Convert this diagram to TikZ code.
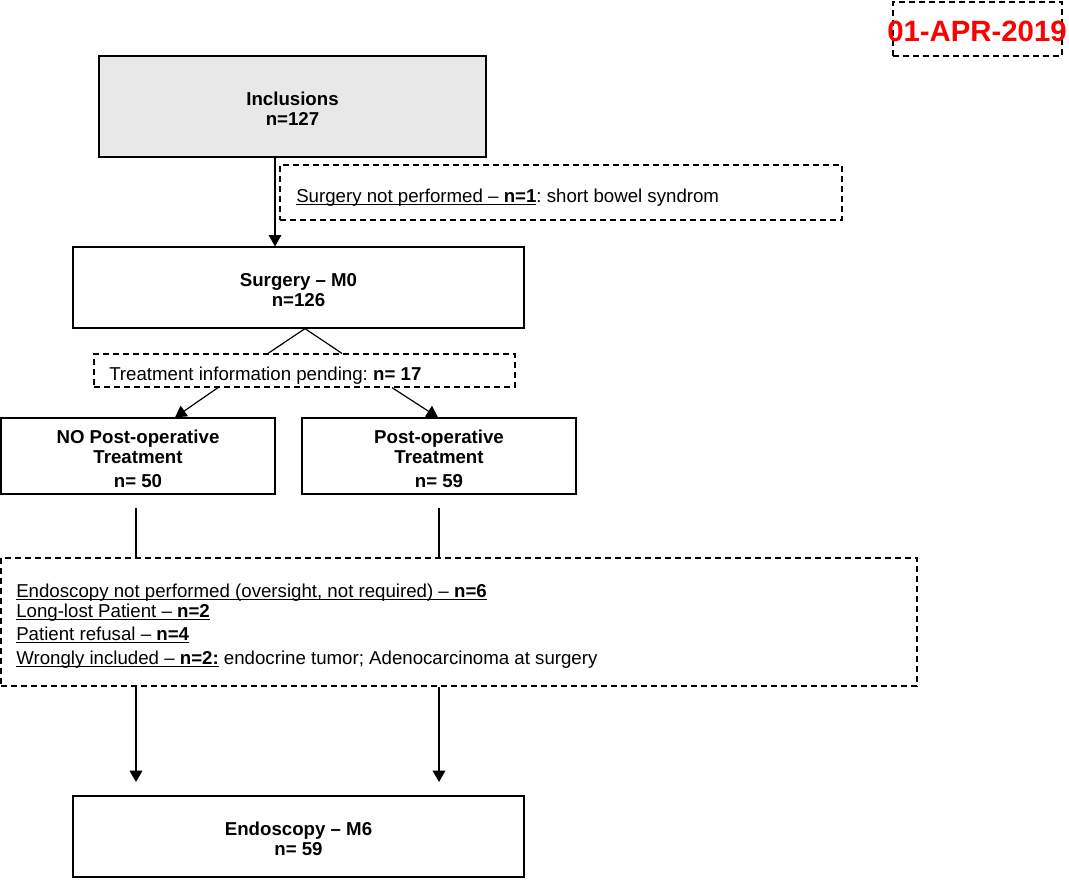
\documentclass[tikz,border=0pt]{standalone}
\usepackage{fontspec}
\setmainfont{Liberation Sans}
\usetikzlibrary{arrows.meta}
\definecolor{boxgray}{HTML}{E8E8E8}
\definecolor{datered}{HTML}{FF0000}
\newcommand\myul[1]{\setbox0\hbox{#1}\rlap{\rule[-1.6pt]{\wd0}{0.6pt}}\box0\relax}
\newcommand\topstrut{\rule{0pt}{14pt}}
\frenchspacing
\tikzset{
  box/.style={draw=black, line width=0.9pt, rectangle, inner sep=0pt, align=center,
    font=\fontsize{14}{15}\selectfont\bfseries},
  dbox/.style={draw=black, line width=0.9pt, dash pattern=on 4.5pt off 3pt, rectangle, inner sep=0pt},
  txt/.style={inner sep=0pt, align=left, font=\fontsize{14}{15}\selectfont},
  conn/.style={line width=0.9pt},
  arr/.style={line width=0.9pt, -{Triangle[width=9.5pt,length=8.5pt]}},
}
\begin{document}
\begin{tikzpicture}[x=0.75pt, y=-0.75pt]
\useasboundingbox (0,0) rectangle (1069,879);

% date stamp
\node[dbox, minimum width=126.75pt, minimum height=40.5pt] (date) at (977.5,29) {};
\node[inner sep=0pt, text=datered, font=\fontsize{22}{24}\selectfont\bfseries] (datetxt) at (977,31) {01-APR-2019};

% main boxes
\node[box, fill=boxgray, minimum width=290.25pt, minimum height=75.75pt] (incl) at (292.5,106.5) {\topstrut Inclusions\\n=127};
\node[box, minimum width=338.25pt, minimum height=60.75pt] (surg) at (298.5,287.5) {\topstrut Surgery -- M0\\n=126};
\node[box, minimum width=205.5pt, minimum height=57pt] (nopost) at (138,456) {\topstrut NO Post-operative\\Treatment\\[3pt]n= 50};
\node[box, minimum width=205.5pt, minimum height=57pt] (post) at (439,456) {\topstrut Post-operative\\Treatment\\[3pt]n= 59};
\node[box, minimum width=338.25pt, minimum height=60.75pt] (endo) at (298.5,836.5) {\topstrut Endoscopy -- M6\\n= 59};

% dashed info boxes
\node[dbox, minimum width=421.5pt, minimum height=41.25pt] (snp) at (561,192.5) {};
\node[txt, anchor=west] (snptxt) at (296,198) {\myul{Surgery not performed -- \textbf{n=1}}: short bowel syndrom};

\node[dbox, minimum width=315.75pt, minimum height=24.75pt] (pend) at (304.5,370.5) {};
\node[txt, anchor=west] (pendtxt) at (109,376) {Treatment information pending: \textbf{n= 17}};

\node[dbox, minimum width=687pt, minimum height=96pt] (big) at (459,622) {};
\node[txt, anchor=west] (bigtxt) at (16,626) {\myul{Endoscopy not performed (oversight, not required) -- \textbf{n=6}}\\[0pt]
\myul{Long-lost Patient -- \textbf{n=2}}\\[2.25pt]
\myul{Patient refusal -- \textbf{n=4}}\\[3pt]
\myul{Wrongly included -- \textbf{n=2:}} endocrine tumor; Adenocarcinoma at surgery};

% connectors
\coordinate (x1) at (275,0);
\draw[arr] (incl.south -| x1) -- (surg.north -| x1);

\coordinate (apex) at (305,0);
\coordinate (pl) at (268,0);
\coordinate (pr) at (342,0);
\draw[conn] (pend.north -| pl) -- (surg.south -| apex) -- (pend.north -| pr);

\coordinate (ql) at (218,0);
\coordinate (qr) at (392,0);
\coordinate (tl) at (175,0);
\coordinate (tr) at (438,0);
\draw[arr] (pend.south -| ql) -- (nopost.north -| tl);
\draw[arr] (pend.south -| qr) -- (post.north -| tr);

\coordinate (c1) at (136,508);
\coordinate (c2) at (439,508);
\draw[conn] (c1) -- (big.north -| c1);
\draw[conn] (c2) -- (big.north -| c2);

\coordinate (d1) at (136,782);
\coordinate (d2) at (439,782);
\draw[arr] (big.south -| d1) -- (d1);
\draw[arr] (big.south -| d2) -- (d2);
\end{tikzpicture}
\end{document}
